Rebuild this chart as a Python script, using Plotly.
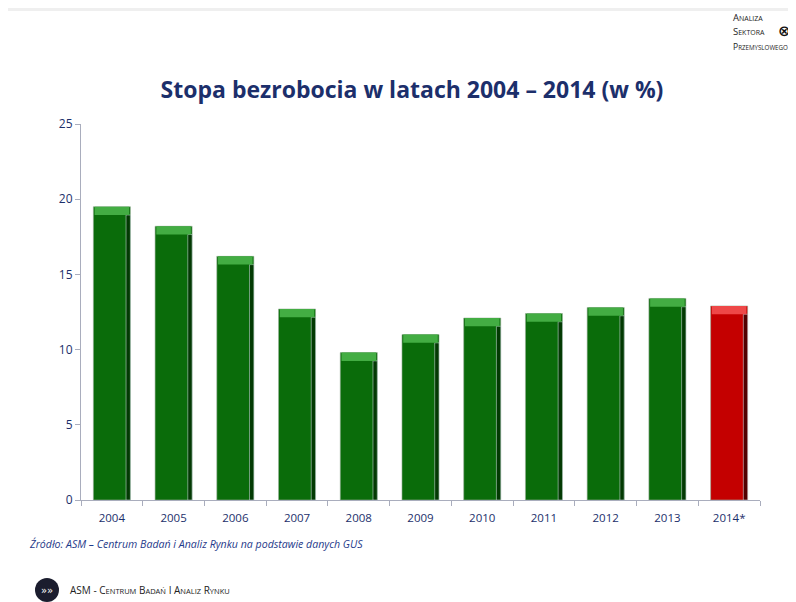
import plotly.graph_objects as go

# unemployment rate, Poland (%)
years = ["2004", "2005", "2006", "2007", "2008", "2009", "2010", "2011", "2012", "2013", "2014*"]
rate = [19.5, 18.2, 16.2, 12.7, 9.8, 11.0, 12.1, 12.4, 12.8, 13.4, 12.9]
estimate = [False] * 10 + [True]

# the page puts the figure 8px in from the top-left corner
OFF = 8
W, H = 796 - OFF, 602 - OFF
L, R, T, B = 81 - OFF, 36, 124 - OFF, 102
NAVY = "#1c2f6b"

# page pixel -> paper helpers for the decorations outside the plot area
def px(x):
    return (x - OFF - L) / (W - L - R)

def py(y):
    return (H - B - (y - OFF)) / (H - T - B)

body = ["#c40000" if e else "#0a6c0a" for e in estimate]
bevel = ["#ee4848" if e else "#43ad43" for e in estimate]
shade = ["#520000" if e else "#033a03" for e in estimate]
bev_h = 0.55

fig = go.Figure()
fig.add_bar(x=years, y=rate, marker=dict(color=body, line=dict(width=0.6, color="#9ab09a")),
            width=0.6, offset=-0.3, hoverinfo="x+y")
fig.add_bar(x=years, y=[v - bev_h for v in rate], marker_color=shade, width=0.07, offset=0.23,
            hoverinfo="skip")
fig.add_bar(x=years, y=[bev_h] * len(rate), base=[v - bev_h for v in rate],
            marker=dict(color=bevel, line=dict(width=0)), width=0.56, offset=-0.28, hoverinfo="skip")

shapes = [
    # slide edge shading along the top
    dict(type="rect", xref="paper", yref="paper", x0=px(OFF), x1=px(796), y0=py(11), y1=py(OFF),
         fillcolor="#efefef", line_width=0, layer="below"),
    # ASM footer logo
    dict(type="circle", xref="paper", yref="paper", x0=px(35), x1=px(59), y0=py(602), y1=py(578),
         fillcolor="#1b1d2e", line_width=0),
]

def small_caps(text, big=10, small=7.5):
    out = []
    for word in text.split(" "):
        if word.isupper() or not word[0].isalpha():
            out.append(f"<span style='font-size:{big}px'>{word}</span>")
        else:
            out.append(f"<span style='font-size:{big}px'>{word[0].upper()}</span>"
                       f"<span style='font-size:{small}px'>{word[1:].upper()}</span>")
    return " ".join(out)

annotations = [
    dict(text="<i>Źródło: ASM – Centrum Badań i Analiz Rynku na podstawie danych GUS</i>",
         x=px(27), y=py(544), xanchor="left", yanchor="middle",
         font=dict(family="Open Sans", size=10.6, color="#1f3a8a")),
    dict(text=small_caps("ASM - Centrum Badań i Analiz Rynku", 10, 7.5),
         x=px(68), y=py(590), xanchor="left", yanchor="middle",
         font=dict(family="Open Sans", size=10, color="#222222")),
    dict(text="»»", x=px(47), y=py(590), xanchor="center", yanchor="middle",
         font=dict(family="DejaVu Sans", size=10, color="#ffffff")),
    dict(text=small_caps("Analiza", 9.5, 7), x=px(731), y=py(17), xanchor="left", yanchor="middle",
         font=dict(family="Open Sans", size=9.5, color="#222222")),
    dict(text=small_caps("Sektora", 9.5, 7), x=px(731), y=py(32), xanchor="left", yanchor="middle",
         font=dict(family="Open Sans", size=9.5, color="#222222")),
    dict(text=small_caps("Przemyslowego", 8.5, 6.2), x=px(731), y=py(46), xanchor="left", yanchor="middle",
         font=dict(family="Open Sans", size=8.5, color="#222222")),
    dict(text="<b>⊗</b>", x=px(784), y=py(31), xanchor="center", yanchor="middle",
         font=dict(family="DejaVu Sans", size=15, color="#111111")),
]
for a in annotations:
    a.update(xref="paper", yref="paper", showarrow=False)

fig.update_layout(
    width=W, height=H,
    margin=dict(l=L, r=R, t=T, b=B),
    paper_bgcolor="white", plot_bgcolor="white",
    barmode="overlay", showlegend=False,
    title=dict(text="<b>Stopa bezrobocia w latach 2004 – 2014 (w %)</b>",
               x=(412 - OFF) / W, xanchor="center", y=1 - (90 - OFF) / H, yanchor="middle",
               font=dict(family="Open Sans", size=23, color=NAVY)),
    font=dict(family="Open Sans", size=11.5, color=NAVY),
    shapes=shapes, annotations=annotations,
)
fig.update_xaxes(showline=True, linecolor="#a9adbd", linewidth=1, ticks="outside", ticklen=5,
                 tickcolor="#a9adbd", tickson="boundaries", showgrid=False, ticklabelstandoff=7,
                 tickfont=dict(color=NAVY, size=11.5))
fig.update_yaxes(range=[0, 25], dtick=5, showline=True, linecolor="#a9adbd", linewidth=1,
                 ticks="outside", ticklen=5, tickcolor="#a9adbd", showgrid=False, zeroline=False,
                 tickfont=dict(color=NAVY, size=12))

fig.write_html("out.html")
